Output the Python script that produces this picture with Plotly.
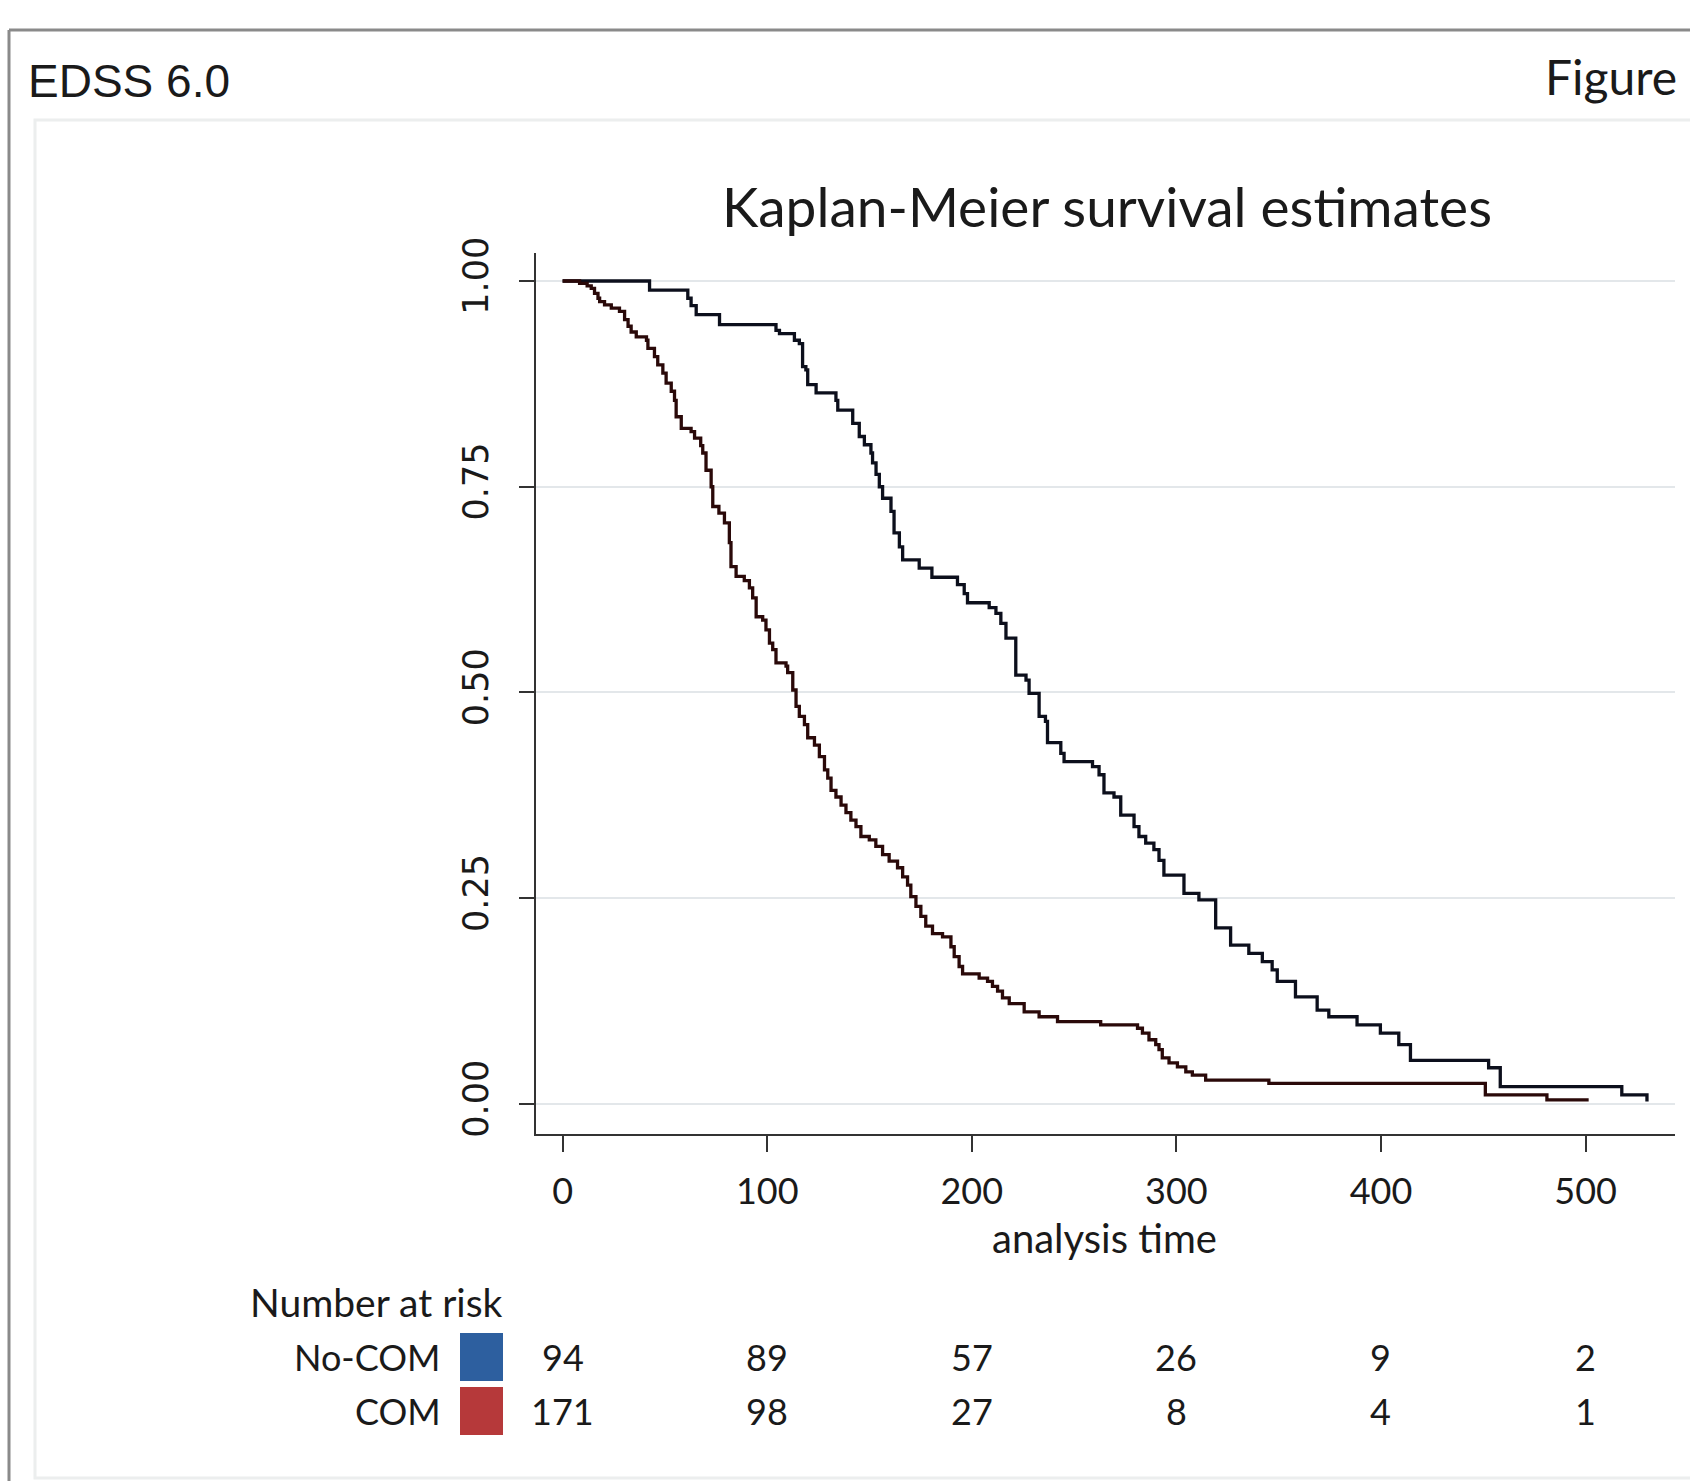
import plotly.graph_objects as go

# Kaplan-Meier step estimates: event times and survival after each step
nocom_time = [0, 42.5, 61.2, 62.8, 65.3, 76.7, 104.3, 106, 113.3, 115.7, 117.3, 118.9, 119.8,
              123.9, 133.6, 134.5, 141.8, 145, 147.5, 150.7, 151.5, 153.2, 154.8, 156.4, 160.5,
              162, 164.6, 166.2, 174.3, 180.5, 193, 196.3, 197.9, 208.5, 211.8, 214.2, 216.7,
              221.5, 226.5, 228, 232.9, 236, 237, 243.5, 245.1, 259, 262.2, 264.6, 269.5, 272.8,
              279.3, 281.7, 285, 289, 291.5, 293.9, 303.7, 311, 319.2, 326.5, 335.4, 342, 346.8,
              349.3, 358.2, 368.8, 374.5, 388.3, 399.7, 408.7, 414.4, 452.6, 458.3, 517.7, 530]
nocom_surv = [1.0, 0.989, 0.979, 0.970, 0.959, 0.947, 0.940, 0.936, 0.928, 0.924, 0.896, 0.892,
              0.874, 0.864, 0.855, 0.843, 0.827, 0.811, 0.801, 0.791, 0.779, 0.765, 0.750, 0.736,
              0.720, 0.694, 0.677, 0.661, 0.651, 0.640, 0.631, 0.620, 0.609, 0.603, 0.596, 0.584,
              0.566, 0.521, 0.515, 0.499, 0.471, 0.465, 0.439, 0.426, 0.416, 0.410, 0.400, 0.378,
              0.373, 0.351, 0.337, 0.325, 0.317, 0.309, 0.296, 0.278, 0.256, 0.248, 0.214, 0.193,
              0.183, 0.173, 0.163, 0.149, 0.130, 0.114, 0.106, 0.096, 0.086, 0.072, 0.053, 0.044,
              0.021, 0.011, 0.003]

com_time = [0, 8.3, 12, 14, 15.6, 17.3, 18.1, 20.5, 23.8, 27.8, 30.3, 32, 33.5, 36, 41, 41.7,
            44.9, 46.5, 49, 50.6, 53.1, 54.7, 55.5, 58, 62.8, 64.5, 67.5, 68.5, 70.1, 72.6, 73.4,
            76.4, 79.1, 81.5, 82.3, 84.8, 88.8, 91.3, 92.9, 94.6, 97.8, 99.4, 101.1, 102.7, 104.3,
            109.2, 110, 112.5, 114.1, 115.7, 118.2, 119.8, 123.1, 125.5, 128, 129.6, 131.2, 133.6,
            136.1, 138.5, 140.9, 143.4, 145.8, 149.9, 153.1, 156.4, 159.6, 163.7, 166.2, 168.6,
            170.2, 172.7, 175.1, 177.5, 180.8, 185.7, 189.8, 191.4, 193.8, 195.5, 203.6, 207.7,
            210.1, 212.6, 215, 218.3, 225.6, 232.9, 241.9, 263, 281, 283.4, 286.6, 289.9, 291.5,
            293.1, 296.4, 300.5, 304.6, 307.8, 314.3, 345.2, 451, 481.1, 501.5]
com_surv = [1.0, 0.997, 0.994, 0.991, 0.985, 0.979, 0.975, 0.971, 0.967, 0.963, 0.953, 0.945,
            0.938, 0.932, 0.928, 0.918, 0.908, 0.898, 0.888, 0.876, 0.866, 0.855, 0.835, 0.821,
            0.817, 0.809, 0.800, 0.791, 0.770, 0.750, 0.726, 0.718, 0.706, 0.682, 0.653, 0.641,
            0.636, 0.627, 0.615, 0.592, 0.588, 0.576, 0.560, 0.552, 0.536, 0.532, 0.524, 0.503,
            0.483, 0.471, 0.461, 0.445, 0.436, 0.422, 0.406, 0.396, 0.381, 0.373, 0.363, 0.354,
            0.345, 0.337, 0.325, 0.321, 0.313, 0.303, 0.295, 0.287, 0.276, 0.266, 0.252, 0.240,
            0.228, 0.216, 0.207, 0.203, 0.191, 0.179, 0.167, 0.158, 0.153, 0.149, 0.143, 0.137,
            0.129, 0.122, 0.112, 0.106, 0.100, 0.096, 0.092, 0.086, 0.078, 0.072, 0.066, 0.056,
            0.050, 0.045, 0.039, 0.035, 0.029, 0.025, 0.011, 0.005, 0.005]

# Number-at-risk table
risk_times = [0, 100, 200, 300, 400, 500]
nocom_risk = [94, 89, 57, 26, 9, 2]
com_risk = [171, 98, 27, 8, 4, 1]
group_names = ["No-COM", "COM"]
group_colors = ["#2d5f9f", "#b6393a"]

y_ticks = [0, 0.25, 0.5, 0.75, 1.0]
y_ticklabels = ["0.00", "0.25", "0.50", "0.75", "1.00"]

W, H = 1690, 1481


def px(x):
    return x / W


def py(y):
    return 1 - y / H


TXT = "Lato"
DARK = "#1a1a1a"

fig = go.Figure()
fig.add_trace(go.Scatter(x=nocom_time, y=nocom_surv, mode="lines", line_shape="hv",
                         line=dict(color="#0c0f1c", width=3.3), name=group_names[0],
                         showlegend=False))
fig.add_trace(go.Scatter(x=com_time, y=com_surv, mode="lines", line_shape="hv",
                         line=dict(color="#2a0909", width=3.3), name=group_names[1],
                         showlegend=False))

fig.update_layout(
    width=W, height=H,
    margin=dict(l=0, r=0, t=0, b=0, pad=0, autoexpand=False),
    paper_bgcolor="white", plot_bgcolor="white",
    title=dict(text="Kaplan-Meier survival estimates", x=px(1107), y=py(208),
               xanchor="center", yanchor="middle",
               font=dict(family=TXT, size=55, color=DARK)),
    xaxis=dict(domain=[px(536), px(1675)], range=[-13.0, 543.7], automargin=False,
               tickvals=risk_times, ticktext=[str(t) for t in risk_times],
               ticks="outside", ticklen=16, tickwidth=2, tickcolor="#333333",
               showline=True, linecolor="#333333", linewidth=2,
               showgrid=False, zeroline=False, ticklabelstandoff=9,
               tickfont=dict(family=TXT, size=36, color=DARK)),
    yaxis=dict(domain=[py(1134), py(253)], range=[-0.0365, 1.034], automargin=False,
               tickvals=y_ticks, ticktext=y_ticklabels, tickangle=-90,
               ticks="outside", ticklen=15, tickwidth=2, tickcolor="#333333",
               showline=True, linecolor="#333333", linewidth=2,
               showgrid=True, gridcolor="#e3e7ea", gridwidth=2, zeroline=False,
               ticklabelstandoff=17,
               tickfont=dict(family="DejaVu Sans", size=35, color=DARK)),
)

# x-axis title
fig.add_annotation(text="analysis time", xref="paper", yref="paper", x=px(1104), y=py(1238),
                   xanchor="center", yanchor="middle", showarrow=False,
                   font=dict(family=TXT, size=40, color=DARK))

# outer frame and inner graph-region outline
fig.add_shape(type="line", xref="paper", yref="paper", x0=px(9), x1=1, y0=py(30), y1=py(30),
              line=dict(color="#8a8a8a", width=3))
fig.add_shape(type="line", xref="paper", yref="paper", x0=px(9), x1=px(9), y0=py(30), y1=0,
              line=dict(color="#8a8a8a", width=3))
fig.add_shape(type="rect", xref="paper", yref="paper", x0=px(35), x1=px(1692), y0=py(1478),
              y1=py(120), line=dict(color="#eceeee", width=3))

# panel labels
fig.add_annotation(text="EDSS 6.0", xref="paper", yref="paper", x=px(26), y=py(81),
                   xanchor="left", yanchor="middle", showarrow=False,
                   font=dict(family="Liberation Sans", size=46, color=DARK))
fig.add_annotation(text="Figure", xref="paper", yref="paper", x=px(1543), y=py(76),
                   xanchor="left", yanchor="middle", showarrow=False,
                   font=dict(family=TXT, size=48, color=DARK))

# number at risk table
fig.add_annotation(text="Number at risk", xref="paper", yref="paper", x=px(505), y=py(1302),
                   xanchor="right", yanchor="middle", showarrow=False,
                   font=dict(family=TXT, size=39, color=DARK))
row_y = [1357, 1411]
for name, color, counts, ry in zip(group_names, group_colors, [nocom_risk, com_risk], row_y):
    fig.add_annotation(text=name, xref="paper", yref="paper", x=px(443), y=py(ry),
                       xanchor="right", yanchor="middle", showarrow=False,
                       font=dict(family=TXT, size=36, color=DARK))
    fig.add_shape(type="rect", xref="paper", yref="paper", x0=px(460), x1=px(503),
                  y0=py(ry + 24), y1=py(ry - 24), line=dict(width=0), fillcolor=color)
    for t, n in zip(risk_times, counts):
        fig.add_annotation(text=str(n), xref="x", yref="paper", x=t, y=py(ry),
                           xanchor="center", yanchor="middle", showarrow=False,
                           font=dict(family=TXT, size=36, color=DARK))

fig.write_html("out.html")
